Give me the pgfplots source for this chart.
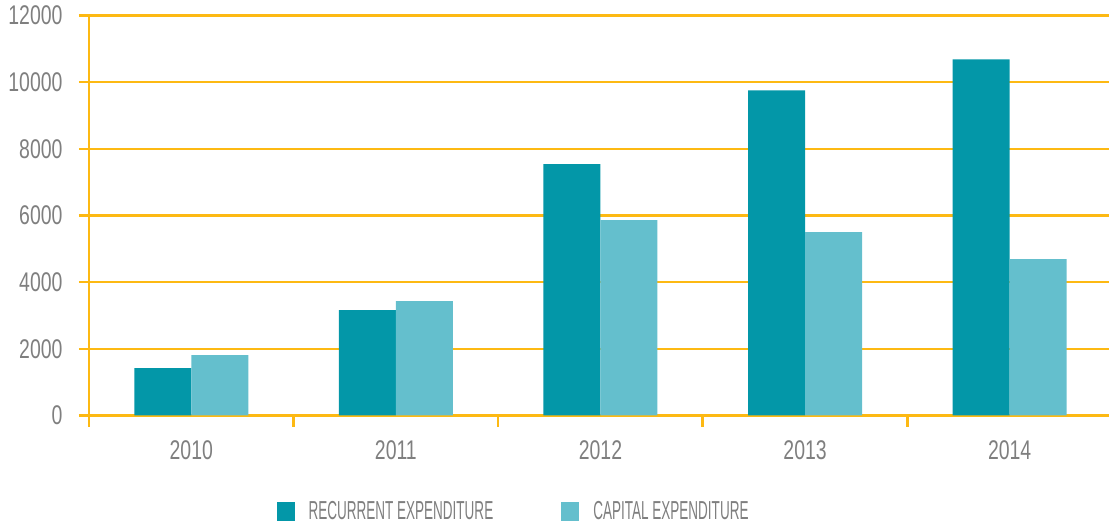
\documentclass[border=0pt]{standalone}
\usepackage{fontspec}
\setmainfont{Liberation Sans}
\newfontfamily\numfont[FakeStretch=0.72]{Liberation Sans}
\newfontfamily\legfont[FakeStretch=0.52]{Liberation Sans}
\usepackage{pgfplots}
\pgfplotsset{compat=1.18}
\definecolor{dteal}{HTML}{0397A8}
\definecolor{lteal}{HTML}{64BFCD}
\definecolor{gridc}{HTML}{FDB913}
\definecolor{txt}{HTML}{7F7F7F}
\pgfplotsset{sq/.style={legend image code/.code={\fill[##1] (0pt,-9.5pt) rectangle (18pt,9.5pt); \path (30pt,0pt);}}}
\begin{document}
\begin{tikzpicture}
\useasboundingbox (-89pt,-111.5pt) rectangle (1020pt,415.5pt);
\begin{axis}[
 at={(0,0)}, anchor=south west,
 scale only axis, width=1020pt, height=400pt,
 ybar=0pt, bar width=57pt,
 xmin=-0.5, xmax=4.4857,
 ymin=0, ymax=12000,
 ytick={0,2000,...,12000},
 xtick={0,...,4}, xticklabels={2010,2011,2012,2013,2014},
 minor xtick={-0.5,0.5,1.5,2.5,3.5},
 axis lines*=left,
 axis line style={gridc, line width=2.6pt},
 ymajorgrids, grid style={gridc, line width=2.6pt},
 tick style={gridc, line width=2.6pt},
 major x tick style={draw=none},
 major tick length=10pt, minor tick length=11pt,
 tick align=outside,
 scaled y ticks=false,
 /pgf/number format/assume math mode=true,
 yticklabel style={/pgf/number format/1000 sep={}, xshift=-13pt},
 xticklabel style={yshift=-12pt},
 ticklabel style={font=\numfont\fontsize{27}{30}\selectfont, text=txt},
 legend style={at={(0.4162,-0.24)}, anchor=center, draw=none, legend columns=2,
   font=\legfont\fontsize{26}{28}\selectfont, text=txt,
   /tikz/every even column/.append style={column sep=66pt}},
]
\addplot[fill=dteal, draw=none, sq] coordinates {(0,1420) (1,3160) (2,7540) (3,9750) (4,10680)};
\addplot[fill=lteal, draw=none, sq] coordinates {(0,1810) (1,3430) (2,5860) (3,5500) (4,4690)};
\legend{RECURRENT EXPENDITURE, CAPITAL EXPENDITURE}
\end{axis}
\end{tikzpicture}
\end{document}
